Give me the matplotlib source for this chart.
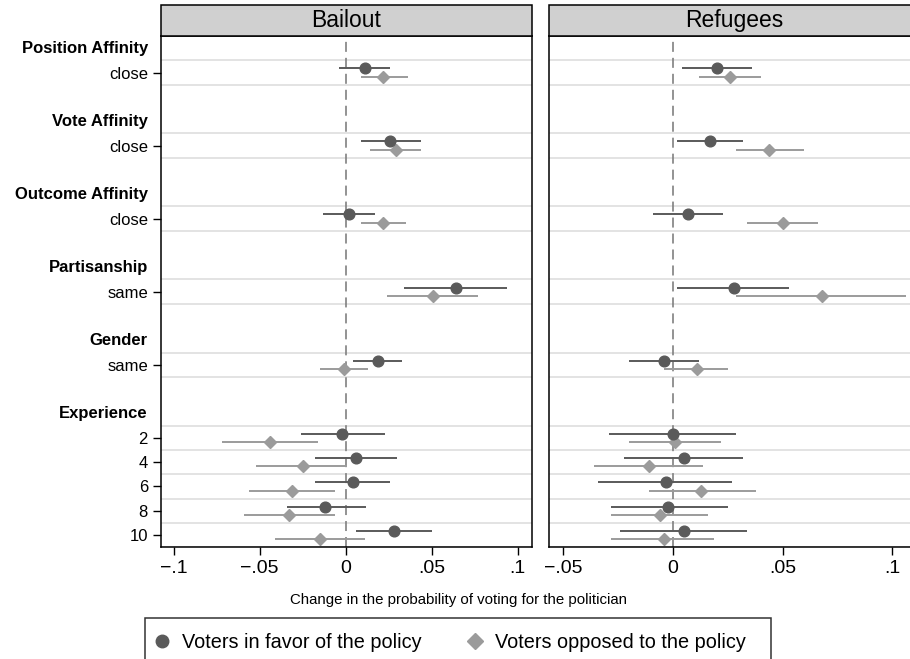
import matplotlib
matplotlib.use("Agg")
import matplotlib.pyplot as plt
from matplotlib.patches import Rectangle
from matplotlib.lines import Line2D
import matplotlib.transforms as mtransforms

plt.rcParams['font.family'] = ['Liberation Sans', 'DejaVu Sans']
plt.rcParams['lines.scale_dashes'] = False

# ---------------- data ----------------
panels = ["Bailout", "Refugees"]
groups = ["Position Affinity", "Vote Affinity", "Outcome Affinity",
          "Partisanship", "Gender", "Experience"]
group_rows = [["close"], ["close"], ["close"], ["same"], ["same"],
              ["2", "4", "6", "8", "10"]]

# estimates and 95% CI (lo, hi), row order as listed above
bail_favor_est = [0.011, 0.026, 0.002, 0.064, 0.019, -0.002, 0.006, 0.004, -0.012, 0.028]
bail_favor_lo = [-0.004, 0.009, -0.013, 0.034, 0.004, -0.026, -0.018, -0.018, -0.034, 0.006]
bail_favor_hi = [0.026, 0.044, 0.017, 0.094, 0.033, 0.023, 0.030, 0.026, 0.012, 0.050]

bail_oppose_est = [0.022, 0.029, 0.022, 0.051, -0.001, -0.044, -0.025, -0.031, -0.033, -0.015]
bail_oppose_lo = [0.009, 0.014, 0.009, 0.024, -0.015, -0.072, -0.052, -0.056, -0.059, -0.041]
bail_oppose_hi = [0.036, 0.044, 0.035, 0.077, 0.013, -0.016, 0.001, -0.006, -0.006, 0.011]

ref_favor_est = [0.020, 0.017, 0.007, 0.028, -0.004, 0.000, 0.005, -0.003, -0.002, 0.005]
ref_favor_lo = [0.004, 0.002, -0.009, 0.002, -0.020, -0.029, -0.022, -0.034, -0.028, -0.024]
ref_favor_hi = [0.036, 0.032, 0.023, 0.053, 0.012, 0.029, 0.032, 0.027, 0.025, 0.034]

ref_oppose_est = [0.026, 0.044, 0.050, 0.068, 0.011, 0.001, -0.011, 0.013, -0.006, -0.004]
ref_oppose_lo = [0.012, 0.029, 0.034, 0.029, -0.004, -0.020, -0.036, -0.011, -0.028, -0.028]
ref_oppose_hi = [0.040, 0.060, 0.066, 0.106, 0.025, 0.022, 0.014, 0.038, 0.016, 0.019]

series_labels = ["Voters in favor of the policy", "Voters opposed to the policy"]
xlabel = "Change in the probability of voting for the politician"

left_xticks = [-0.1, -0.05, 0, 0.05, 0.1]
left_xticklabels = ["\u2212.1", "\u2212.05", "0", ".05", ".1"]
right_xticks = [-0.05, 0, 0.05, 0.1]
right_xticklabels = ["\u2212.05", "0", ".05", ".1"]

# ---------------- layout ----------------
W, H = 910, 659
fig = plt.figure(figsize=(W / 100, H / 100), dpi=100)

top_px, bot_px = 36, 547.3
ax_h = (bot_px - top_px) / H
ax_b = 1 - bot_px / H
axL = fig.add_axes([161 / W, ax_b, (531.5 - 161) / W, ax_h])
axR = fig.add_axes([549.3 / W, ax_b, (919.8 - 549.3) / W, ax_h])

# y positions: header, then its rows, then one blank unit
header_y = []
row_y = []
row_labels = []
y = 0.5
for g, rows in zip(groups, group_rows):
    header_y.append(y)
    for i, r in enumerate(rows):
        row_y.append(y + 1 + i)
        row_labels.append(r)
    y = y + 2 + len(rows)

fav_col = '#5a5a5a'
opp_col = '#9b9b9b'
grid_col = '#e1e1e1'
off = 0.17

data = [
    (bail_favor_est, bail_favor_lo, bail_favor_hi, bail_oppose_est, bail_oppose_lo, bail_oppose_hi),
    (ref_favor_est, ref_favor_lo, ref_favor_hi, ref_oppose_est, ref_oppose_lo, ref_oppose_hi),
]
xlims = [(-0.1074, 0.1081), (-0.0562, 0.1125)]
ticks = [(left_xticks, left_xticklabels), (right_xticks, right_xticklabels)]

for ax, title, d, xl, (tk, tkl) in zip([axL, axR], panels, data, xlims, ticks):
    fe, flo, fhi, oe, olo, ohi = d
    ax.set_xlim(*xl)
    ax.set_ylim(21, 0)
    # grid lines around each row
    gl = sorted(set([r - 0.5 for r in row_y] + [r + 0.5 for r in row_y]))
    for g in gl:
        ax.axhline(g, color=grid_col, lw=1.3, zorder=1)
    ax.axvline(0, color='#808080', lw=1.2, dashes=(7.2, 4.3), zorder=2)
    fy = [r - off for r in row_y]
    oy = [r + off for r in row_y]
    ax.hlines(fy, flo, fhi, color=fav_col, lw=1.4, zorder=3)
    ax.hlines(oy, olo, ohi, color=opp_col, lw=1.4, zorder=3)
    ax.plot(fe, fy, 'o', ms=7.7, color=fav_col, mec=fav_col, zorder=5)
    ax.plot(oe, oy, 'D', ms=6.4, color=opp_col, mec=opp_col, zorder=4)
    ax.set_xticks(tk)
    ax.set_xticklabels(tkl, fontsize=14)
    ax.tick_params(axis='x', direction='out', length=5.8, width=1.0, pad=3, color='black')
    for s in ax.spines.values():
        s.set_linewidth(1.1)
        s.set_color('black')
    # title strip
    strip_h = 31 / (bot_px - top_px)
    ax.add_patch(Rectangle((0, 1), 1, strip_h, transform=ax.transAxes,
                           facecolor='#d0d0d0', edgecolor='black', lw=1.1,
                           clip_on=False, zorder=10))
    ax.text(0.5, 1 + strip_h / 2, title, transform=ax.transAxes, ha='center',
            va='center', fontsize=16.5, zorder=11)

axL.set_yticks(row_y)
axL.set_yticklabels(row_labels, fontsize=12)
axL.tick_params(axis='y', direction='out', length=5.8, width=1.0, pad=3.6)
trans = mtransforms.blended_transform_factory(axL.transAxes, axL.transData)
for g, hy in zip(groups, header_y):
    axL.text(-13 / 370.5, hy, g, transform=trans, ha='right', va='center',
             fontsize=12, fontweight='bold')

axR.set_yticks([])

fig.text(458 / W, 1 - 600 / H, xlabel, ha='center', va='center', fontsize=10.8)

# legend
handles = [Line2D([], [], ls='none', marker='o', ms=9, color=fav_col),
           Line2D([], [], ls='none', marker='D', ms=7.8, color=opp_col)]
fig.legend(handles, series_labels, loc='center left',
           bbox_to_anchor=(151.8 / W, 1 - 642.3 / H), ncol=2, frameon=False,
           fontsize=14.3, handlelength=1.0, handletextpad=0.51,
           columnspacing=2.21, borderpad=0, borderaxespad=0)
fig.patches.append(Rectangle((145 / W, -0.02), (771 - 145) / W, (1 - 617.7 / H) + 0.02,
                             transform=fig.transFigure, facecolor='none',
                             edgecolor='#333333', lw=1.1))

fig.savefig('out.png', dpi=100)
